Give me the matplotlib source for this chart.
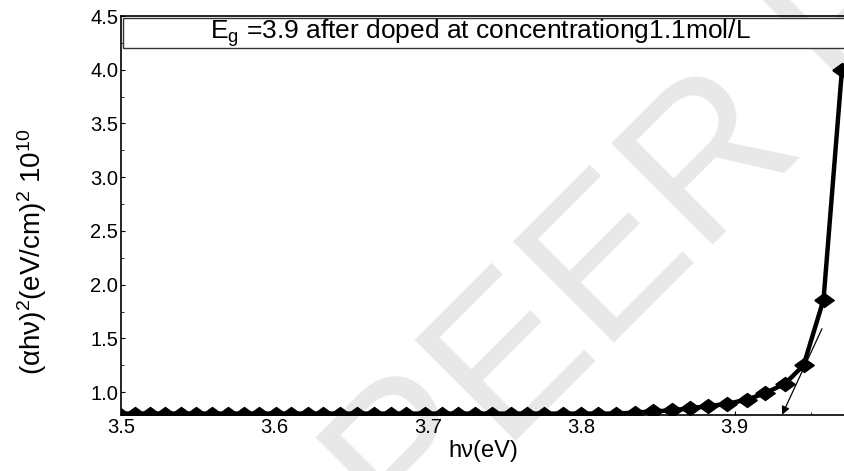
import numpy as np
import matplotlib
matplotlib.use('Agg')
import matplotlib.pyplot as plt
import matplotlib.patches as mpatches
from matplotlib.ticker import MultipleLocator

plt.rcParams['font.family'] = ['Liberation Sans', 'DejaVu Sans']
plt.rcParams['mathtext.fontset'] = 'custom'
plt.rcParams['mathtext.rm'] = 'Liberation Sans'
plt.rcParams['mathtext.it'] = 'Liberation Sans'
plt.rcParams['mathtext.default'] = 'regular'

# photon energy (eV) and (alpha h nu)^2 in units of 1e10
hv = [3.499, 3.509, 3.519, 3.529, 3.539, 3.549, 3.559, 3.570, 3.580, 3.590,
      3.601, 3.611, 3.622, 3.632, 3.643, 3.654, 3.665, 3.676, 3.686, 3.698,
      3.709, 3.720, 3.731, 3.742, 3.754, 3.765, 3.776, 3.788, 3.800, 3.811,
      3.823, 3.835, 3.847, 3.859, 3.871, 3.883, 3.895, 3.908, 3.920, 3.933,
      3.945, 3.958, 3.970]
ahv2 = [0.80, 0.80, 0.80, 0.80, 0.80, 0.80, 0.80, 0.80, 0.80, 0.80,
        0.80, 0.80, 0.80, 0.80, 0.80, 0.80, 0.80, 0.80, 0.80, 0.80,
        0.80, 0.80, 0.80, 0.80, 0.80, 0.80, 0.80, 0.80, 0.80, 0.80,
        0.80, 0.81, 0.82, 0.83, 0.85, 0.87, 0.89, 0.93, 0.99, 1.08,
        1.25, 1.86, 4.00]

# tangent line (extrapolation to the energy axis)
tan_x = [3.957, 3.931]
tan_y = [1.59, 0.79]

title_txt = r'E$_g$ =3.9 after doped at concentrationg1.1mol/L'

fig = plt.figure(figsize=(8.45, 4.71), dpi=100)
ax = fig.add_axes([0.1432, 0.1189, 0.8568, 0.8471])
ax.patch.set_alpha(0)

# watermark
fig.text(0.48, -0.17, 'PEER REVIEW', fontsize=150, color='#e8e8e8',
         rotation=45, rotation_mode='anchor', ha='left', va='baseline', zorder=-5)

# flattened diamond marker
diam = [(-1, 0), (0, 0.72), (1, 0), (0, -0.72), (-1, 0)]
ax.plot(hv, ahv2, color='black', lw=3.2, marker=diam, ms=14,
        mfc='black', mec='black', zorder=3)

ax.annotate('', xy=(tan_x[1], tan_y[1]), xytext=(tan_x[0], tan_y[0]),
            arrowprops=dict(arrowstyle='-|>', color='black', lw=0.9,
                            mutation_scale=12, shrinkA=0, shrinkB=0),
            zorder=4)

ax.set_xlim(3.5, 3.972)
ax.set_ylim(0.787, 4.5)
ax.xaxis.set_major_locator(MultipleLocator(0.1))
ax.xaxis.set_minor_locator(MultipleLocator(0.05))
ax.yaxis.set_minor_locator(MultipleLocator(0.25))
ax.set_yticks([1.0, 1.5, 2.0, 2.5, 3.0, 3.5, 4.0, 4.5])
ax.tick_params(which='both', direction='in', labelsize=14.5, pad=2)
ax.tick_params(which='major', length=3, width=0.8)
ax.tick_params(which='minor', length=2, width=0.6)
for s in ax.spines.values():
    s.set_linewidth(1.2)

ax.set_xlabel('hν(eV)', fontsize=17)
ax.xaxis.set_label_coords(0.5, -0.062)
ax.set_ylabel(r'(αhν)$^2$(eV/cm)$^2$ 10$^{10}$', fontsize=20)
ax.yaxis.set_label_coords(-0.1, 0.41)

# title box spanning the top of the plot
box = mpatches.Rectangle((0.003, 0.92), 1.0, 0.075, transform=ax.transAxes,
                         facecolor='white', edgecolor='#333333', lw=1.0, zorder=5)
ax.add_patch(box)
ax.text(0.496, 0.957, title_txt, transform=ax.transAxes, fontsize=19,
        ha='center', va='center', zorder=6)

fig.savefig('out.png', dpi=100)
